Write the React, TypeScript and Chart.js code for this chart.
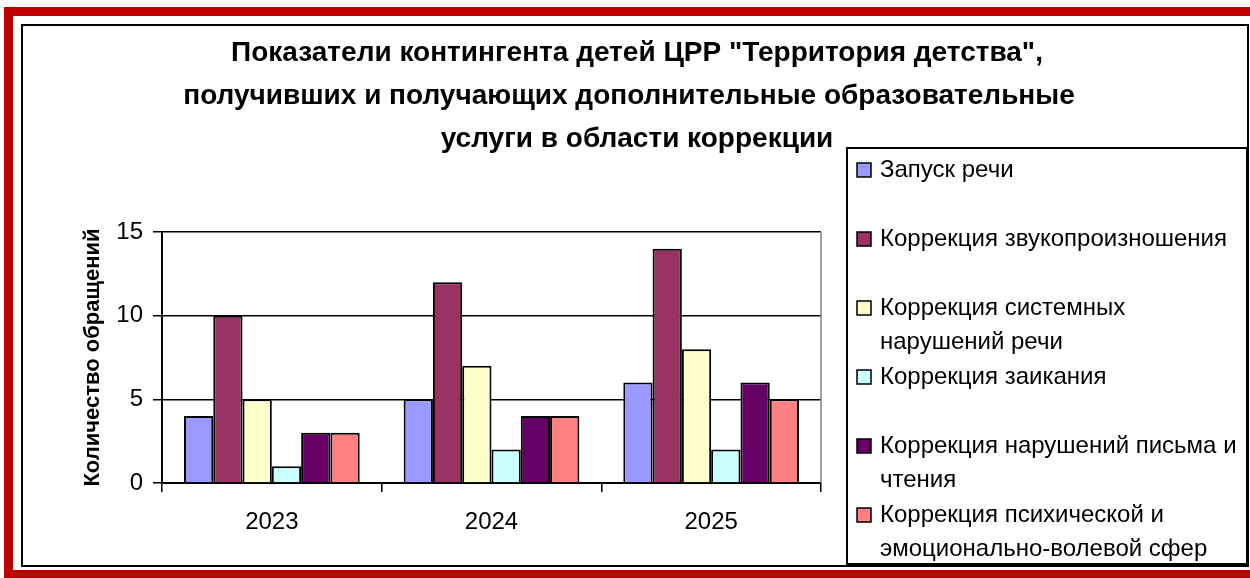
import React, { useEffect, useRef } from 'react';
import { Chart, registerables } from 'chart.js';

Chart.register(...registerables);

const FONT = '"Liberation Sans", Arial, sans-serif';

const titleLines = [
  'Показатели контингента детей ЦРР "Территория детства",',
  'получивших и получающих дополнительные образовательные',
  'услуги в области коррекции',
];
const yAxisTitle = 'Количество обращений';
const categories = ['2023', '2024', '2025'];
const yTicks = [0, 5, 10, 15];

const seriesNames = [
  ['Запуск речи'],
  ['Коррекция звукопроизношения'],
  ['Коррекция системных', 'нарушений речи'],
  ['Коррекция заикания'],
  ['Коррекция нарушений письма и', 'чтения'],
  ['Коррекция психической и', 'эмоционально-волевой сфер'],
];
const zapuskRechi = [4, 5, 6];
const zvukoproiznoshenie = [10, 12, 14];
const sistemnyeNarusheniya = [5, 7, 8];
const zaikanie = [1, 2, 2];
const pismoChtenie = [3, 4, 6];
const psihEmocVolevaya = [3, 4, 5];
const seriesValues = [zapuskRechi, zvukoproiznoshenie, sistemnyeNarusheniya, zaikanie, pismoChtenie, psihEmocVolevaya];
const seriesColors = ['#9999FF', '#993366', '#FFFFCC', '#CCFFFF', '#660066', '#FF8080'];

const framePlugin = {
  id: 'framePlugin',
  beforeDraw(chart: any) {
    const ctx = chart.ctx;
    const W = chart.width;
    const H = chart.height;
    ctx.save();
    ctx.fillStyle = '#ffffff';
    ctx.fillRect(0, 0, W, H);
    // red outer frame
    ctx.fillStyle = '#C00000';
    ctx.fillRect(4, 7, W - 4, 9);
    ctx.fillRect(4, 7, 9, H - 7);
    ctx.fillRect(4, 570, W - 4, 9);
    // black inner border
    ctx.strokeStyle = '#000';
    ctx.lineWidth = 2;
    ctx.strokeRect(22, 25, 1226, 541);
    ctx.restore();
  },
  afterDraw(chart: any) {
    const ctx = chart.ctx;
    const area = chart.chartArea;
    ctx.save();
    // plot area right border
    ctx.strokeStyle = '#808080';
    ctx.lineWidth = 1.5;
    ctx.beginPath();
    ctx.moveTo(area.right, area.top);
    ctx.lineTo(area.right, area.bottom);
    ctx.stroke();

    // title
    ctx.fillStyle = '#000';
    ctx.font = `bold 28px ${FONT}`;
    ctx.textAlign = 'center';
    ctx.textBaseline = 'middle';
    const tCenters = [637, 629, 637];
    titleLines.forEach((line, i) => {
      ctx.fillText(line, tCenters[i], 53 + i * 43);
    });

    // legend
    const lx = 847, ly = 148, lw = 400, lh = 416;
    ctx.fillStyle = '#fff';
    ctx.fillRect(lx, ly, lw, lh);
    ctx.strokeStyle = '#000';
    ctx.lineWidth = 2;
    ctx.strokeRect(lx, ly, lw, lh);
    ctx.font = `24px ${FONT}`;
    ctx.textAlign = 'left';
    ctx.textBaseline = 'middle';
    chart.data.datasets.forEach((ds: any, i: number) => {
      const y0 = 170 + i * 69;
      ctx.fillStyle = ds.backgroundColor;
      ctx.fillRect(857, y0 - 7, 14, 14);
      ctx.strokeStyle = '#000';
      ctx.lineWidth = 1.5;
      ctx.strokeRect(857, y0 - 7, 14, 14);
      ctx.fillStyle = '#000';
      seriesNames[i].forEach((line, j) => {
        ctx.fillText(line, 880, y0 + j * 34);
      });
    });
    ctx.restore();
  },
};

export default function App() {
  const ref = useRef<HTMLCanvasElement | null>(null);
  useEffect(() => {
    if (!ref.current) return;
    const chart = new Chart(ref.current, {
      type: 'bar',
      data: {
        labels: categories,
        datasets: seriesValues.map((vals, i) => ({
          label: seriesNames[i].join(' '),
          data: vals,
          backgroundColor: seriesColors[i],
          borderColor: '#000',
          borderWidth: 2,
          categoryPercentage: 0.8,
          barPercentage: 1.0,
        })),
      },
      options: {
        animation: false,
        responsive: false,
        devicePixelRatio: 1,
        layout: { padding: { left: 80, right: 429, top: 232, bottom: 0 } },
        plugins: {
          legend: { display: false },
          title: { display: false },
          tooltip: { enabled: false },
        },
        scales: {
          x: {
            offset: true,
            grid: { offset: true, drawOnChartArea: false, drawTicks: true, tickLength: 9, color: '#000', lineWidth: 1.5 },
            border: { display: true, color: '#000', width: 2 },
            ticks: { color: '#000', font: { family: FONT, size: 24 }, padding: 16 },
            afterFit: (s: any) => { s.height = 95; },
          },
          y: {
            min: 0,
            max: 15,
            afterBuildTicks: (s: any) => { s.ticks = yTicks.map((v) => ({ value: v })); },
            ticks: { color: '#000', font: { family: FONT, size: 24 }, padding: 10 },
            grid: { color: '#000', lineWidth: 1.5, tickLength: 9 },
            border: { display: true, color: '#000', width: 2 },
            title: {
              display: true,
              text: yAxisTitle,
              color: '#000',
              font: { family: FONT, size: 22, weight: 'bold' },
              padding: { top: 0, bottom: 0 },
            },
            afterFit: (s: any) => { s.width = 82; },
          },
        },
      },
      plugins: [framePlugin],
    } as any);
    return () => chart.destroy();
  }, []);
  return (
    <div style={{ position: 'absolute', left: 0, top: 0, width: 1250, height: 578 }}>
      <canvas ref={ref} width={1250} height={578} style={{ display: 'block' }} />
    </div>
  );
}
